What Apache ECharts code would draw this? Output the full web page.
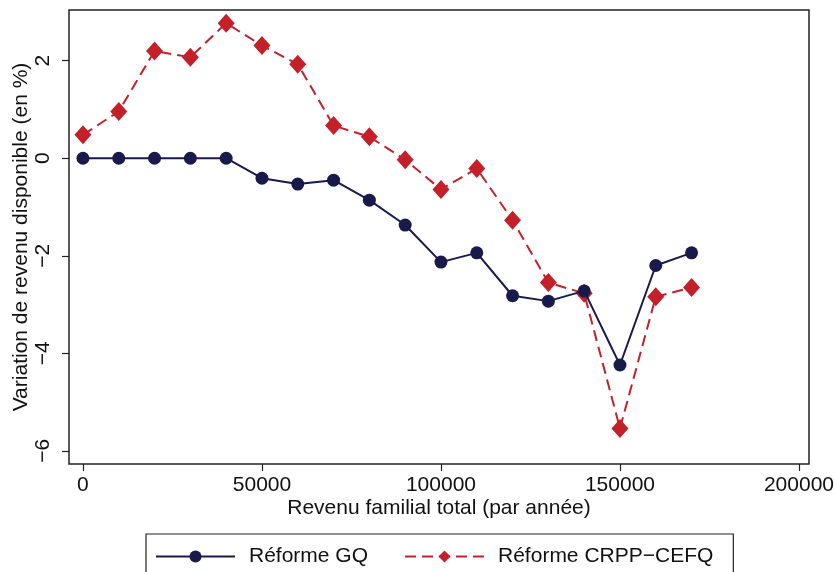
<!DOCTYPE html>
<html>
<head>
<meta charset="utf-8">
<script src="https://cdn.jsdelivr.net/npm/echarts@6/dist/echarts.min.js"></script>
<style>
  html, body { margin: 0; padding: 0; background: #fff; }
  #chart { width: 834px; height: 572px; }
</style>
</head>
<body>
<div id="chart"></div>
<script>
// Family income brackets (dollars per year)
const incomes = [0, 10000, 20000, 30000, 40000, 50000, 60000, 70000, 80000, 90000,
                 100000, 110000, 120000, 130000, 140000, 150000, 160000, 170000];
// Change in disposable income (%) under each reform
const reformeGQ = [0, 0, 0, 0, 0, -0.41, -0.53, -0.45, -0.86, -1.37,
                   -2.13, -1.94, -2.82, -2.93, -2.72, -4.24, -2.20, -1.94];
const reformeCRPP = [0.48, 0.96, 2.20, 2.07, 2.77, 2.31, 1.93, 0.67, 0.44, -0.03,
                     -0.64, -0.21, -1.27, -2.55, -2.77, -5.54, -2.84, -2.65];
const xTicks = [0, 50000, 100000, 150000, 200000];
const yTicks = [-6, -4, -2, 0, 2];
const seriesNames = ['Réforme GQ', 'Réforme CRPP\u2212CEFQ'];

const NAVY = '#171a4a';
const RED = '#c4202a';
const INK = '#111';
const FONT = '"Liberation Sans", Arial, Helvetica, sans-serif';
const FS = 21;
const minus = v => String(v).replace('-', '\u2212');

const chart = echarts.init(document.getElementById('chart'), null, { renderer: 'canvas' });
chart.setOption({
  backgroundColor: '#ffffff',
  animation: false,
  textStyle: { fontFamily: FONT },
  grid: {
    left: 69, right: 25, top: 10, bottom: 108,
    containLabel: false, outerBoundsMode: 'none',
    show: true, borderColor: '#222', borderWidth: 1.5, backgroundColor: '#fff'
  },
  xAxis: {
    type: 'value',
    min: -3900, max: 202800,
    name: 'Revenu familial total (par année)',
    nameLocation: 'middle', nameGap: 34, nameMoveOverlap: false,
    nameTextStyle: { fontSize: FS, color: INK, fontFamily: FONT },
    axisLine: { show: false, onZero: false },
    splitLine: { show: false },
    axisTick: { show: true, length: 7, customValues: xTicks, lineStyle: { color: '#222', width: 1.2 } },
    axisLabel: {
      customValues: xTicks, fontSize: FS, color: INK, margin: 11, fontFamily: FONT,
      formatter: v => String(v)
    }
  },
  yAxis: {
    type: 'value',
    min: -6.27, max: 3.04,
    name: 'Variation de revenu disponible (en %)',
    nameLocation: 'middle', nameGap: 37, nameRotate: 90, nameMoveOverlap: false,
    nameTextStyle: { fontSize: FS, color: INK, fontFamily: FONT },
    axisLine: { show: false, onZero: false },
    splitLine: { show: false },
    axisTick: { show: true, length: 7, customValues: yTicks, lineStyle: { color: '#222', width: 1.2 } },
    axisLabel: {
      customValues: yTicks, fontSize: FS, color: INK, rotate: 90, margin: 15,
      fontFamily: FONT, formatter: v => minus(v)
    }
  },
  legend: {
    left: 146, top: 534,
    padding: [12, 20, 20, 9],
    borderColor: '#222', borderWidth: 1.2,
    itemWidth: 79, itemHeight: 15, itemGap: 36,
    textStyle: { fontSize: FS, color: INK, fontFamily: FONT, padding: [0, 0, 0, 9] },
    data: seriesNames
  },
  series: [
    {
      name: seriesNames[0],
      type: 'line',
      data: incomes.map((x, i) => [x, reformeGQ[i]]),
      symbol: 'circle', symbolSize: 13,
      lineStyle: { color: NAVY, width: 2 },
      itemStyle: { color: NAVY },
      z: 3
    },
    {
      name: seriesNames[1],
      type: 'line',
      data: incomes.map((x, i) => [x, reformeCRPP[i]]),
      symbol: 'diamond', symbolSize: [17, 19],
      lineStyle: { color: RED, width: 2, type: [11, 6] },
      itemStyle: { color: RED },
      z: 2
    }
  ]
});
</script>
</body>
</html>
